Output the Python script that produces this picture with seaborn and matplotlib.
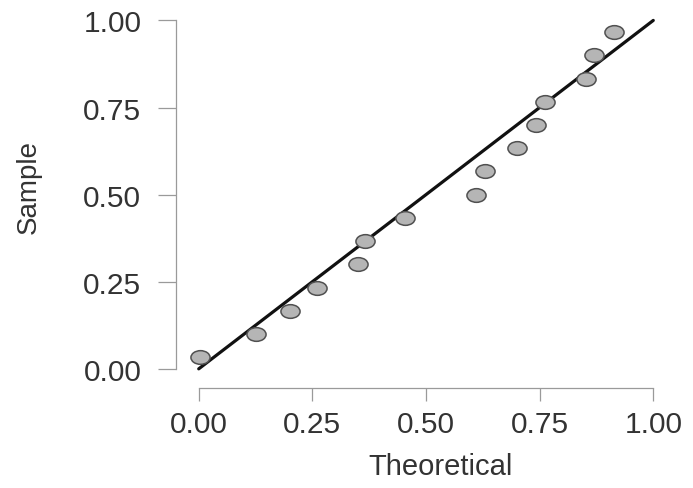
import numpy as np
import pandas as pd
import seaborn as sns
import matplotlib
matplotlib.use("Agg")
import matplotlib.pyplot as plt
from matplotlib.path import Path
from matplotlib.transforms import Affine2D

sns.set_style("white")
plt.rcParams['font.family'] = ['Liberation Sans', 'DejaVu Sans']

# values
theoretical = [0.002, 0.126, 0.200, 0.260, 0.350, 0.366, 0.454, 0.610,
               0.630, 0.700, 0.742, 0.762, 0.852, 0.870, 0.914]
sample = [0.033, 0.100, 0.167, 0.233, 0.300, 0.367, 0.433, 0.500,
          0.567, 0.633, 0.700, 0.767, 0.833, 0.900, 0.967]
line_x = [0.0, 1.0]
line_y = [0.0, 1.0]
ticks = [0.00, 0.25, 0.50, 0.75, 1.00]
tick_labels = ["0.00", "0.25", "0.50", "0.75", "1.00"]

data = pd.DataFrame({"Theoretical": theoretical, "Sample": sample})
ref = pd.DataFrame({"Theoretical": line_x, "Sample": line_y})

fig = plt.figure(figsize=(6.93, 4.89), dpi=100)
ax = fig.add_axes([176 / 693, 1 - 389 / 489, 500 / 693, 385 / 489])

# slightly wide oval marker, like the stretched original
oval = Path.unit_circle().transformed(Affine2D().scale(1.4, 1.0))

sns.lineplot(data=ref, x="Theoretical", y="Sample", color="#111111",
             linewidth=2.3, ax=ax, zorder=2)
sns.scatterplot(data=data, x="Theoretical", y="Sample", marker=oval, s=190,
                color="#b5b5b5", edgecolor="#505050", linewidth=1.1,
                ax=ax, zorder=3)

ax.set_xlim(-0.05, 1.05)
ax.set_ylim(-0.055, 1.05)
ax.set_xticks(ticks)
ax.set_xticklabels(tick_labels)
ax.set_yticks(ticks)
ax.set_yticklabels(tick_labels)

for side in ["top", "right"]:
    ax.spines[side].set_visible(False)
for side in ["left", "bottom"]:
    ax.spines[side].set_bounds(0, 1)
    ax.spines[side].set_color("#9a9a9a")
    ax.spines[side].set_linewidth(0.9)

ax.tick_params(axis="y", length=13, width=0.9, color="#9a9a9a", pad=12,
               labelsize=21.5, labelcolor="#333333", left=True)
ax.tick_params(axis="x", length=9.5, width=0.9, color="#9a9a9a", pad=6,
               labelsize=21.5, labelcolor="#333333", bottom=True)

ax.set_xlabel("Theoretical", fontsize=21, color="#333333")
ax.set_ylabel("Sample", fontsize=20, color="#333333")
ax.xaxis.set_label_coords((441 - 176) / 500, -(467 - 389) / 385)
ax.yaxis.set_label_coords(-(176 - 29) / 500, (389 - 187) / 385)
ax.xaxis.label.set_va("center")
ax.yaxis.label.set_va("center")

fig.savefig("out.png", dpi=100)
